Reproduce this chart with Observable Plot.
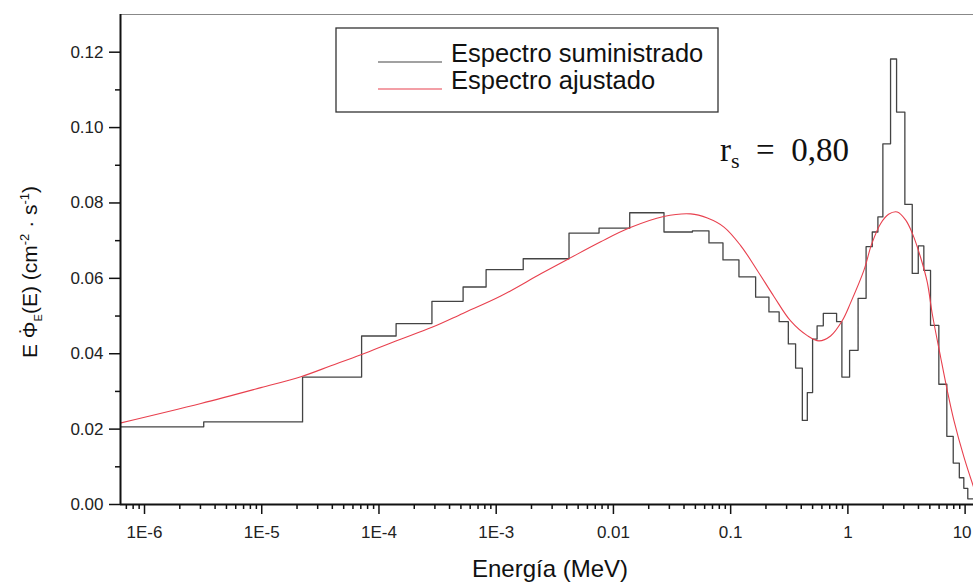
<!DOCTYPE html>
<html>
<head>
<meta charset="utf-8">
<script src="https://cdn.jsdelivr.net/npm/d3@7"></script>
<script src="https://cdn.jsdelivr.net/npm/@observablehq/plot@0.6"></script>
<style>
  html, body { margin: 0; padding: 0; background: #fff; }
  #chart svg { display: block; }
</style>
</head>
<body>
<div id="chart"></div>
<script>
// Supplied spectrum: lower bin edges (MeV) and E·Φ per bin; last edge closes the final bin
const binEdges = [
  4.0e-7, 3.2e-6, 2.23e-5, 7.11e-5, 1.40e-4, 2.83e-4, 5.22e-4, 8.2e-4, 1.70e-3, 4.18e-3,
  7.54e-3, 0.01377, 0.027, 0.0472, 0.0653, 0.086, 0.1177, 0.1633, 0.2121, 0.2592,
  0.3104, 0.3581, 0.4087, 0.4507, 0.500, 0.5462, 0.617, 0.8012, 0.8888, 1.034,
  1.222, 1.43, 1.614, 1.803, 1.988, 2.312, 2.602, 3.062, 3.54, 3.984,
  4.445, 5.07, 5.969, 6.982, 7.917, 8.925, 9.748, 10.54, 12.5
];
const suppliedFlux = [
  0.0206, 0.0219, 0.0338, 0.0447, 0.0480, 0.0539, 0.0577, 0.0623, 0.0652, 0.0720,
  0.0733, 0.0774, 0.0723, 0.0726, 0.0694, 0.0649, 0.0604, 0.0550, 0.0511, 0.0485,
  0.0426, 0.0362, 0.0223, 0.0297, 0.0439, 0.0474, 0.0507, 0.0485, 0.0338, 0.0409,
  0.0547, 0.0684, 0.0723, 0.0763, 0.0957, 0.1182, 0.1041, 0.0796, 0.0613, 0.0686,
  0.0621, 0.0475, 0.0319, 0.0181, 0.0110, 0.0071, 0.0043, 0.0015
];

// Fitted spectrum sampled along energy (MeV)
const fitEnergy = [
  6.0e-7, 3.03e-6, 9.84e-6, 2.16e-5, 3.89e-5, 7.11e-5, 1.393e-4, 2.83e-4, 5.19e-4, 1.094e-3,
  2.40e-3, 4.16e-3, 7.79e-3, 0.01377, 0.02684, 0.0456, 0.0633, 0.0877, 0.1217, 0.1689,
  0.2339, 0.3247, 0.4507, 0.566, 0.7117, 0.8961, 1.054, 1.369, 1.592, 1.900,
  2.223, 2.637, 3.104, 3.561, 4.167, 4.753, 5.242, 6.17, 7.037, 8.011,
  9.748, 11.79
];
const fitFlux = [
  0.0215, 0.0268, 0.0310, 0.0339, 0.0368, 0.0398, 0.0434, 0.0470, 0.0507, 0.0553,
  0.0612, 0.0652, 0.0697, 0.0734, 0.0764, 0.0771, 0.0760, 0.0736, 0.0687, 0.0621,
  0.0552, 0.0487, 0.0448, 0.0434, 0.0447, 0.0488, 0.0535, 0.0621, 0.0690, 0.0745,
  0.0770, 0.0776, 0.0755, 0.0718, 0.0656, 0.0590, 0.0506, 0.0392, 0.0303, 0.0224,
  0.0127, 0.0047
];

// Axis ticks
const xMajorTicks = [1e-6, 1e-5, 1e-4, 1e-3, 0.01, 0.1, 1, 10];
const xMajorLabels = ["1E-6", "1E-5", "1E-4", "1E-3", "0.01", "0.1", "1", "10"];
const yMajorTicks = [0, 0.02, 0.04, 0.06, 0.08, 0.10, 0.12];
const yMinorTicks = [0.01, 0.03, 0.05, 0.07, 0.09, 0.11];

const seriesNames = ["Espectro suministrado", "Espectro ajustado"];
const seriesColors = ["#444444", "#e8404e"];
const correlationText = "0,80";

const xDomain = [6.24e-7, 11.79];
const yDomain = [0, 0.13];

// Step outline of the supplied spectrum
const histogram = suppliedFlux.map((v, i) => ({E: binEdges[i], v}));
histogram.push({E: binEdges[suppliedFlux.length], v: suppliedFlux[suppliedFlux.length - 1]});

const fitted = fitEnergy.map((E, i) => ({E, v: fitFlux[i]}));

// Minor decade ticks (2..9 × 10^k) inside the domain
const xMinorTicks = [];
for (let k = -7; k <= 1; k++) {
  for (let m = 2; m <= 9; m++) {
    const t = m * Math.pow(10, k);
    if (t >= xDomain[0] && t <= xDomain[1]) xMinorTicks.push(+t.toPrecision(3));
  }
}
const xLabelOf = new Map(xMajorTicks.map((t, i) => [t, xMajorLabels[i]]));
const lastTick = xMajorTicks[xMajorTicks.length - 1];

const chart = Plot.plot({
  width: 973,
  height: 584,
  marginLeft: 120,
  marginRight: 0,
  marginTop: 14,
  marginBottom: 80,
  x: {type: "log", domain: xDomain},
  y: {domain: yDomain},
  style: {fontFamily: "'Liberation Sans', Arial, sans-serif", fontSize: "17px", color: "#222", background: "#fff"},
  marks: [
    Plot.ruleY([yDomain[1]], {stroke: "#888", strokeWidth: 1}),
    Plot.line(histogram, {x: "E", y: "v", curve: "step-after", stroke: seriesColors[0], strokeWidth: 1.3, clip: true}),
    Plot.line(fitted, {x: "E", y: "v", curve: "catmull-rom", stroke: seriesColors[1], strokeWidth: 1.1, clip: true}),
    Plot.axisX(xMinorTicks, {tickSize: 5, tickFormat: () => "", label: null, stroke: "#111", strokeWidth: 1.5}),
    Plot.axisX(xMajorTicks, {tickSize: 10, tickPadding: 11, tickFormat: d => (d === lastTick ? "" : xLabelOf.get(d)), label: null, stroke: "#111", strokeWidth: 1.5, fontSize: 17}),
    // the last decade label sits against the right edge, so nudge it inward
    Plot.text([lastTick], {x: d => d, y: yDomain[0], text: d => xLabelOf.get(d), dy: 21, dx: -3, lineAnchor: "top", fontSize: 17, fill: "#222"}),
    Plot.axisY(yMinorTicks, {tickSize: 5, tickFormat: () => "", label: null, stroke: "#111", strokeWidth: 1.5}),
    Plot.axisY(yMajorTicks, {tickSize: 11, tickPadding: 6, tickFormat: d => d.toFixed(2), label: null, stroke: "#111", strokeWidth: 1.5, fontSize: 17}),
    Plot.ruleY([0], {stroke: "#111", strokeWidth: 2}),
    Plot.ruleX([xDomain[0]], {stroke: "#111", strokeWidth: 2})
  ]
});

document.getElementById("chart").appendChild(chart);

const svg = d3.select(chart);
const sans = "'Liberation Sans', Arial, sans-serif";

// Legend box
const legend = svg.append("g").attr("font-family", sans).attr("fill", "#111").attr("text-anchor", "start");
legend.append("rect")
  .attr("x", 336).attr("y", 28).attr("width", 382).attr("height", 84)
  .attr("fill", "#fff").attr("stroke", "#333").attr("stroke-width", 1.3);
[62, 89].forEach((y, i) => {
  legend.append("line")
    .attr("x1", 378).attr("x2", 442).attr("y1", y).attr("y2", y)
    .attr("stroke", seriesColors[i]).attr("stroke-width", 1.1);
  legend.append("text")
    .attr("x", 451).attr("y", y)
    .attr("font-size", 25.5)
    .text(seriesNames[i]);
});

// Spearman coefficient annotation
const rs = svg.append("text")
  .attr("x", 720).attr("y", 161)
  .attr("text-anchor", "start")
  .attr("font-family", "'Liberation Serif', 'Times New Roman', serif")
  .attr("font-size", 33).attr("fill", "#111");
rs.append("tspan").text("r");
rs.append("tspan").attr("dy", 7).attr("font-size", 22).text("s");
rs.append("tspan").attr("dy", -7).attr("xml:space", "preserve").text("  =  " + correlationText);

// Axis titles
svg.append("text")
  .attr("x", 550).attr("y", 577)
  .attr("text-anchor", "middle")
  .attr("font-family", sans).attr("font-size", 24).attr("fill", "#111")
  .text("Energía (MeV)");

const yTitle = svg.append("text")
  .attr("transform", "translate(37,272) rotate(-90)")
  .attr("text-anchor", "middle")
  .attr("font-family", sans).attr("font-size", 21).attr("fill", "#111");
yTitle.append("tspan").text("E \u03A6");
yTitle.append("tspan").attr("dx", -12.5).attr("dy", -3).text("\u02D9");
yTitle.append("tspan").attr("dx", 5.5).attr("dy", 8).attr("font-size", 11).text("E");
yTitle.append("tspan").attr("dy", -5).text("(E) (cm");
yTitle.append("tspan").attr("dy", -8).attr("font-size", 13).text("-2");
yTitle.append("tspan").attr("dy", 8).text(" \u00B7 s");
yTitle.append("tspan").attr("dy", -8).attr("font-size", 13).text("-1");
yTitle.append("tspan").attr("dy", 8).text(")");
</script>
</body>
</html>
